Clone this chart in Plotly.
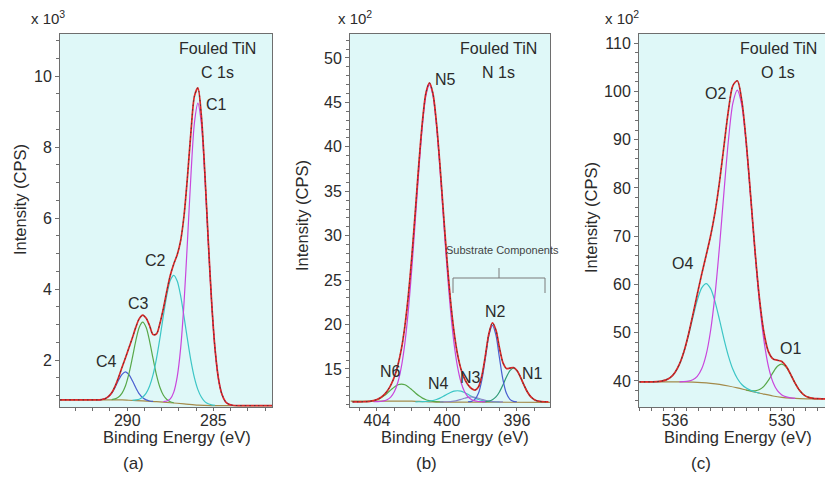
import plotly.graph_objects as go

FONT = "Liberation Sans, Arial, Helvetica, sans-serif"
TXT = "#2b2b2b"
AXC = "#6e6e6e"
BG = "#dff8f8"
# the page body keeps its default 8 px margin, so the figure starts at (8, 8) in the window
OX, OY = 8, 8
W, H = 825, 469

# ---------------- Panel (a) : C 1s (x 10^3 CPS) ----------------
a_env_x = [293.9, 293.1, 292.3, 291.9, 291.7, 291.5, 291.3, 291.1, 290.9, 290.7, 290.5, 290.3,
           290.1, 289.9, 289.7, 289.5, 289.3, 289.1, 288.9, 288.7, 288.5, 288.3, 288.1, 287.9,
           287.7, 287.5, 287.3, 287.1, 286.9, 286.7, 286.5, 286.3, 286.1, 285.9, 285.7, 285.5,
           285.3, 285.1, 284.9, 284.7, 284.5, 284.3, 284.1, 283.9, 283.5, 282.5, 281.6]
a_env_y = [0.88, 0.88, 0.88, 0.88, 0.88, 0.89, 0.91, 0.97, 1.08, 1.27, 1.52, 1.80,
           2.07, 2.35, 2.63, 2.93, 3.17, 3.27, 3.18, 2.97, 2.72, 2.74, 3.04, 3.46,
           3.95, 4.39, 4.71, 4.97, 5.37, 6.09, 7.19, 8.45, 9.44, 9.67, 8.90, 7.31,
           5.39, 3.62, 2.29, 1.46, 1.03, 0.83, 0.76, 0.73, 0.72, 0.72, 0.72]

a_c1_x = [287.9, 287.7, 287.5, 287.3, 287.1, 286.9, 286.7, 286.5, 286.3, 286.1, 285.9,
          285.7, 285.5, 285.3, 285.1, 284.9, 284.7, 284.5, 284.3, 284.1, 283.9]
a_c1_y = [0.83, 0.85, 0.91, 1.10, 1.53, 2.34, 3.65, 5.39, 7.24, 8.69, 9.24,
          8.67, 7.21, 5.34, 3.60, 2.28, 1.46, 1.03, 0.83, 0.755, 0.73]

a_c2_x = [289.7, 289.5, 289.3, 289.1, 288.9, 288.7, 288.5, 288.3, 288.1, 287.9, 287.7, 287.5,
          287.3, 287.1, 286.9, 286.7, 286.5, 286.3, 286.1, 285.9, 285.7, 285.5, 285.3, 285.1, 284.9]
a_c2_y = [0.87, 0.88, 0.90, 0.96, 1.07, 1.27, 1.59, 2.05, 2.63, 3.26, 3.84, 4.25,
          4.39, 4.23, 3.81, 3.21, 2.57, 1.97, 1.50, 1.17, 0.96, 0.83, 0.77, 0.74, 0.73]

a_c3_x = [290.9, 290.7, 290.5, 290.3, 290.1, 289.9, 289.7, 289.5, 289.3, 289.1,
          288.9, 288.7, 288.5, 288.3, 288.1, 287.9, 287.7, 287.5, 287.3]
a_c3_y = [0.89, 0.91, 0.96, 1.07, 1.28, 1.62, 2.07, 2.55, 2.93, 3.07,
          2.92, 2.53, 2.04, 1.58, 1.23, 1.01, 0.89, 0.83, 0.80]

a_c4_x = [291.7, 291.5, 291.3, 291.1, 290.9, 290.7, 290.5, 290.3, 290.1,
          289.9, 289.7, 289.5, 289.3, 289.1, 288.9, 288.7, 288.5]
a_c4_y = [0.88, 0.89, 0.91, 0.97, 1.07, 1.24, 1.44, 1.60, 1.67,
          1.59, 1.42, 1.22, 1.05, 0.94, 0.88, 0.85, 0.84]

a_bg_x = [293.9, 290.3, 289.9, 289.1, 288.3, 287.5, 286.7, 285.9, 285.1, 281.6]
a_bg_y = [0.88, 0.88, 0.87, 0.85, 0.83, 0.80, 0.77, 0.735, 0.72, 0.72]

a_xticks = [290, 285]
a_yticks = [2, 4, 6, 8, 10]

# ---------------- Panel (b) : N 1s (x 10^2 CPS) ----------------
b_env_x = [405.4, 405.2, 405.0, 404.8, 404.6, 404.4, 404.2, 404.0, 403.8, 403.6, 403.4, 403.2,
           403.0, 402.8, 402.6, 402.4, 402.2, 402.0, 401.8, 401.6, 401.4, 401.2, 401.0, 400.8,
           400.6, 400.4, 400.2, 400.0, 399.8, 399.6, 399.4, 399.2, 399.0, 398.8, 398.6, 398.4,
           398.2, 398.0, 397.8, 397.6, 397.4, 397.2, 397.0, 396.8, 396.6, 396.4, 396.2, 396.0,
           395.8, 395.6, 395.4, 395.2, 395.0, 394.8, 394.6, 394.4, 394.2]
b_env_y = [11.30, 11.30, 11.30, 11.31, 11.33, 11.36, 11.43, 11.56, 11.76, 12.09, 12.56, 13.22,
           14.14, 15.45, 17.29, 19.89, 23.39, 27.82, 32.95, 38.22, 42.87, 46.08, 47.20, 46.01,
           42.72, 37.98, 32.58, 27.33, 22.79, 19.25, 16.70, 15.00, 13.92, 13.23, 12.80, 12.62,
           12.97, 14.26, 16.54, 19.00, 20.19, 19.37, 17.39, 15.71, 15.05, 15.10, 15.16, 14.83,
           14.09, 13.20, 12.41, 11.85, 11.54, 11.39, 11.33, 11.31, 11.30]

b_n6_x = [405.0, 404.8, 404.6, 404.4, 404.2, 404.0, 403.8, 403.6, 403.4, 403.2, 403.0, 402.8, 402.6,
          402.4, 402.2, 402.0, 401.8, 401.6, 401.4, 401.2, 401.0, 400.8, 400.6, 400.4, 400.2]
b_n6_y = [11.30, 11.31, 11.33, 11.36, 11.43, 11.54, 11.72, 11.98, 12.30, 12.65, 12.98, 13.22, 13.30,
          13.22, 12.98, 12.65, 12.30, 11.98, 11.72, 11.54, 11.43, 11.36, 11.33, 11.31, 11.30]

b_n5_x = [404.2, 404.0, 403.8, 403.6, 403.4, 403.2, 403.0, 402.8, 402.6, 402.4, 402.2, 402.0,
          401.8, 401.6, 401.4, 401.2, 401.0, 400.8, 400.6, 400.4, 400.2, 400.0, 399.8, 399.6,
          399.4, 399.2, 399.0, 398.8, 398.6, 398.4, 398.2, 398.0, 397.8]
b_n5_y = [11.31, 11.32, 11.34, 11.41, 11.56, 11.87, 12.46, 13.53, 15.29, 17.97, 21.71, 26.47,
          31.95, 37.54, 42.43, 45.80, 47.00, 45.80, 42.43, 37.54, 31.95, 26.47, 21.71, 17.97,
          15.29, 13.53, 12.46, 11.87, 11.56, 11.41, 11.34, 11.32, 11.30]

b_n4_x = [401.8, 401.6, 401.4, 401.2, 401.0, 400.8, 400.6, 400.4, 400.2, 400.0, 399.8, 399.6, 399.4,
          399.2, 399.0, 398.8, 398.6, 398.4, 398.2, 398.0, 397.8, 397.6, 397.4, 397.2, 397.0]
b_n4_y = [11.30, 11.31, 11.32, 11.34, 11.38, 11.45, 11.56, 11.72, 11.93, 12.15, 12.35, 12.50, 12.55,
          12.50, 12.35, 12.15, 11.93, 11.72, 11.56, 11.45, 11.38, 11.34, 11.32, 11.31, 11.30]

b_n3_x = [400.4, 400.2, 400.0, 399.8, 399.6, 399.4, 399.2, 399.0, 398.8, 398.6,
          398.4, 398.2, 398.0, 397.8, 397.6, 397.4, 397.2, 397.0, 396.8]
b_n3_y = [11.30, 11.30, 11.31, 11.33, 11.38, 11.46, 11.58, 11.70, 11.81, 11.85,
          11.81, 11.70, 11.58, 11.46, 11.38, 11.33, 11.31, 11.30, 11.30]

b_n2_x = [398.8, 398.6, 398.4, 398.2, 398.0, 397.8, 397.6, 397.4,
          397.2, 397.0, 396.8, 396.6, 396.4, 396.2, 396.0]
b_n2_y = [11.31, 11.36, 11.58, 12.26, 13.81, 16.27, 18.80, 19.90,
          18.80, 16.27, 13.81, 12.26, 11.58, 11.36, 11.31]

b_n1_x = [398.0, 397.8, 397.6, 397.4, 397.2, 397.0, 396.8, 396.6, 396.4, 396.2,
          396.0, 395.8, 395.6, 395.4, 395.2, 395.0, 394.8, 394.6, 394.4]
b_n1_y = [11.31, 11.33, 11.39, 11.54, 11.85, 12.41, 13.20, 14.09, 14.82, 15.10,
          14.82, 14.09, 13.20, 12.41, 11.85, 11.54, 11.39, 11.33, 11.31]

b_bg_x = [405.5, 402.4, 402.0, 401.6, 401.2, 400.8, 400.4, 400.0, 394.1]
b_bg_y = [11.38, 11.38, 11.37, 11.35, 11.32, 11.29, 11.27, 11.26, 11.25]

b_xticks = [404, 400, 396]
b_yticks = [15, 20, 25, 30, 35, 40, 45, 50]

# ---------------- Panel (c) : O 1s (x 10^2 CPS) ----------------
c_env_x = [538.0, 537.75, 537.5, 537.25, 537.0, 536.75, 536.5, 536.25, 536.0, 535.75, 535.5,
           535.25, 535.0, 534.75, 534.5, 534.25, 534.0, 533.75, 533.5, 533.25, 533.0, 532.75,
           532.5, 532.25, 532.0, 531.75, 531.5, 531.25, 531.0, 530.75, 530.5, 530.25, 530.0,
           529.75, 529.5, 529.25, 529.0, 528.75, 528.5, 528.25, 528.0, 527.75, 527.5, 527.25]
c_env_y = [39.80, 39.80, 39.81, 39.82, 39.86, 39.97, 40.22, 40.75, 41.77, 43.48, 46.06,
           49.53, 53.63, 57.96, 62.14, 66.05, 70.09, 74.98, 81.28, 88.74, 96.07, 101.22,
           102.21, 98.09, 89.46, 78.20, 66.63, 56.81, 49.89, 46.03, 44.58, 44.30, 44.01,
           43.00, 41.33, 39.49, 38.00, 37.06, 36.59, 36.39, 36.32, 36.30, 36.30, 36.30]

c_o4_x = [537.25, 537.0, 536.75, 536.5, 536.25, 536.0, 535.75, 535.5, 535.25, 535.0, 534.75,
          534.5, 534.25, 534.0, 533.75, 533.5, 533.25, 533.0, 532.75, 532.5, 532.25, 532.0,
          531.75, 531.5, 531.25]
c_o4_y = [39.82, 39.86, 39.97, 40.22, 40.75, 41.76, 43.46, 46.00, 49.34, 53.12, 56.70,
          59.28, 60.18, 59.13, 56.40, 52.65, 48.68, 45.15, 42.41, 40.51, 39.27, 38.52,
          38.05, 37.71, 37.47]

c_o2_x = [535.75, 535.5, 535.25, 535.0, 534.75, 534.5, 534.25, 534.0, 533.75, 533.5, 533.25,
          533.0, 532.75, 532.5, 532.25, 532.0, 531.75, 531.5, 531.25, 531.0, 530.75, 530.5,
          530.25, 530.0, 529.75, 529.5, 529.25]
c_o2_y = [39.82, 39.86, 39.97, 40.26, 40.96, 42.51, 45.45, 50.46, 57.98, 67.91, 79.18,
          89.87, 97.56, 100.25, 97.13, 89.02, 77.94, 66.28, 56.03, 48.21, 42.92, 39.74,
          37.98, 37.11, 36.69, 36.48, 36.38]

c_o1_x = [532.0, 531.75, 531.5, 531.25, 531.0, 530.75, 530.5, 530.25, 530.0,
          529.75, 529.5, 529.25, 529.0, 528.75, 528.5, 528.25, 528.0]
c_o1_y = [38.12, 37.97, 37.94, 38.21, 38.93, 40.16, 41.72, 43.04, 43.50,
          42.82, 41.26, 39.47, 38.00, 37.06, 36.59, 36.39, 36.32]

c_bg_x = [538.0, 535.5, 535.0, 534.5, 534.0, 533.5, 533.0, 532.5, 532.0, 531.5, 531.0,
          530.5, 530.0, 529.5, 529.0, 528.5, 527.2]
c_bg_y = [39.8, 39.8, 39.75, 39.65, 39.5, 39.28, 38.95, 38.55, 38.1, 37.65, 37.25,
          36.88, 36.6, 36.42, 36.32, 36.3, 36.3]

c_xticks = [536, 530]
c_yticks = [40, 50, 60, 70, 80, 90, 100, 110]

# ---------------- colours ----------------
RED = "#e02828"
DATA = "#3a3a3a"
MAG = "#c946dc"
CYAN = "#3cc6c6"
GREEN = "#58a84a"
BLUE = "#4a5fd0"
TEAL = "#2f9a78"
LAV = "#8a86c8"
OLIVE = "#a38a4a"

fig = go.Figure()


def add(x, y, color, width, xa, ya, dash=None):
    fig.add_trace(go.Scatter(
        x=x, y=y, mode="lines", xaxis=xa, yaxis=ya, hoverinfo="skip", showlegend=False,
        line=dict(color=color, width=width, shape="spline", smoothing=0.8, dash=dash)))


# panel a
add(a_bg_x, a_bg_y, OLIVE, 1.2, "x", "y")
add(a_c4_x, a_c4_y, BLUE, 1.2, "x", "y")
add(a_c3_x, a_c3_y, GREEN, 1.2, "x", "y")
add(a_c2_x, a_c2_y, CYAN, 1.2, "x", "y")
add(a_c1_x, a_c1_y, MAG, 1.2, "x", "y")
add(a_env_x, a_env_y, RED, 1.7, "x", "y")
add(a_env_x, a_env_y, DATA, 0.9, "x", "y", dash="1.5px,3px")

# panel b
add(b_bg_x, b_bg_y, OLIVE, 1.2, "x2", "y2")
add(b_n6_x, b_n6_y, GREEN, 1.2, "x2", "y2")
add(b_n4_x, b_n4_y, CYAN, 1.2, "x2", "y2")
add(b_n3_x, b_n3_y, LAV, 1.2, "x2", "y2")
add(b_n1_x, b_n1_y, TEAL, 1.2, "x2", "y2")
add(b_n2_x, b_n2_y, BLUE, 1.2, "x2", "y2")
add(b_n5_x, b_n5_y, MAG, 1.2, "x2", "y2")
add(b_env_x, b_env_y, RED, 1.7, "x2", "y2")
add(b_env_x, b_env_y, DATA, 0.9, "x2", "y2", dash="1.5px,3px")

# panel c
add(c_bg_x, c_bg_y, OLIVE, 1.2, "x3", "y3")
add(c_o1_x, c_o1_y, GREEN, 1.2, "x3", "y3")
add(c_o4_x, c_o4_y, CYAN, 1.2, "x3", "y3")
add(c_o2_x, c_o2_y, MAG, 1.2, "x3", "y3")
add(c_env_x, c_env_y, RED, 1.7, "x3", "y3")
add(c_env_x, c_env_y, DATA, 0.9, "x3", "y3", dash="1.5px,3px")


def axis(**kw):
    d = dict(showgrid=False, zeroline=False, showline=True, linecolor=AXC, linewidth=1,
             ticks="outside", ticklen=4, tickcolor=AXC, tickwidth=1,
             tickfont=dict(family=FONT, size=16, color=TXT), tickmode="array")
    d.update(kw)
    return d


def minor(t0, dt):
    return dict(tickmode="linear", tick0=t0, dtick=dt, ticks="outside", ticklen=3,
                tickcolor=AXC, showgrid=False)


def DX(p0, p1):
    return [(p0 - OX) / W, min(1.0, (p1 - OX) / W)]


def DY(top, bottom):
    return [1 - (bottom - OY) / H, 1 - (top - OY) / H]


YD = DY(34, 407)

fig.update_layout(
    width=W, height=H, margin=dict(l=0, r=0, t=0, b=0),
    paper_bgcolor="white", plot_bgcolor=BG, showlegend=False,
    font=dict(family=FONT, color=TXT),
    xaxis=axis(domain=DX(60, 272), range=[293.9, 281.6], anchor="y", mirror=True,
               tickvals=a_xticks, minor=minor(0, 1), ticklen=3, ticklabelstandoff=-4),
    yaxis=axis(domain=YD, range=[0.68, 11.19], anchor="x", mirror=True,
               tickvals=a_yticks, minor=minor(0, 0.5)),
    xaxis2=axis(domain=DX(350, 550), range=[405.54, 394.11], anchor="y2", mirror=True,
                tickvals=b_xticks, minor=minor(0, 1), ticklen=3, ticklabelstandoff=-4),
    yaxis2=axis(domain=YD, range=[10.72, 52.7], anchor="x2", mirror=True,
                tickvals=b_yticks, minor=minor(0, 1)),
    xaxis3=axis(domain=DX(639, 833), range=[538.02, 527.13], anchor="y3", mirror=True,
                tickvals=c_xticks, minor=minor(530, 2 / 3), ticklen=3, ticklabelstandoff=-4),
    yaxis3=axis(domain=YD, range=[34.6, 111.9], anchor="x3", mirror=False,
                tickvals=c_yticks, minor=minor(0, 2)),
)


def P(xp, yp):
    return (xp - OX) / W, 1 - (yp - OY) / H


ann = []


def txt(s, xp, yp, size=16, xanchor="center", angle=0, color=TXT):
    x, y = P(xp, yp)
    ann.append(dict(text=s, x=x, y=y, xref="paper", yref="paper", showarrow=False,
                    xanchor=xanchor, yanchor="middle", textangle=angle,
                    font=dict(family=FONT, size=size, color=color)))


# multipliers
txt("x 10<sup>3</sup>", 29, 18, 15, xanchor="left")
txt("x 10<sup>2</sup>", 336, 18, 15, xanchor="left")
txt("x 10<sup>2</sup>", 603, 18, 15, xanchor="left")

# in-plot titles
for cx, line2 in [(218, "C 1s"), (499, "N 1s"), (778, "O 1s")]:
    txt("Fouled TiN", cx, 48, 16)
    txt(line2, cx, 72, 16)

# peak labels
txt("C1", 216, 104, 16)
txt("C2", 155, 260, 16)
txt("C3", 138, 303, 16)
txt("C4", 106, 361, 16)

txt("N5", 445, 80, 16)
txt("N2", 495, 311, 16)
txt("N1", 532, 373, 16)
txt("N3", 471, 377, 16)
txt("N4", 438, 383, 16)
txt("N6", 390, 371, 16)
txt("Substrate Components", 502, 250, 11, color="#444444")

txt("O2", 715, 93, 16)
txt("O4", 682, 263, 16)
txt("O1", 790, 348, 16)

# axis titles
for cx in [177, 455, 738]:
    txt("Binding Energy (eV)", cx, 437, 16.5)
txt("Intensity (CPS)", 20, 200, 16.5, angle=-90)
txt("Intensity (CPS)", 302, 216, 16.5, angle=-90)
txt("Intensity (CPS)", 591, 218, 16.5, angle=-90)

# panel letters
txt("(a)", 133, 463, 17)
txt("(b)", 426, 463, 17)
txt("(c)", 701, 463, 17)

fig.update_layout(annotations=ann)

# bracket for substrate components
shapes = []
BR = "#7a7a7a"
for (x0, y0, x1, y1) in [(453, 278, 545, 278), (453, 278, 453, 293),
                         (545, 278, 545, 293), (499, 268, 499, 278)]:
    a0, b0 = P(x0, y0)
    a1, b1 = P(x1, y1)
    shapes.append(dict(type="line", xref="paper", yref="paper", x0=a0, y0=b0, x1=a1, y1=b1,
                       line=dict(color=BR, width=1)))
fig.update_layout(shapes=shapes)

fig.write_html("out.html")
